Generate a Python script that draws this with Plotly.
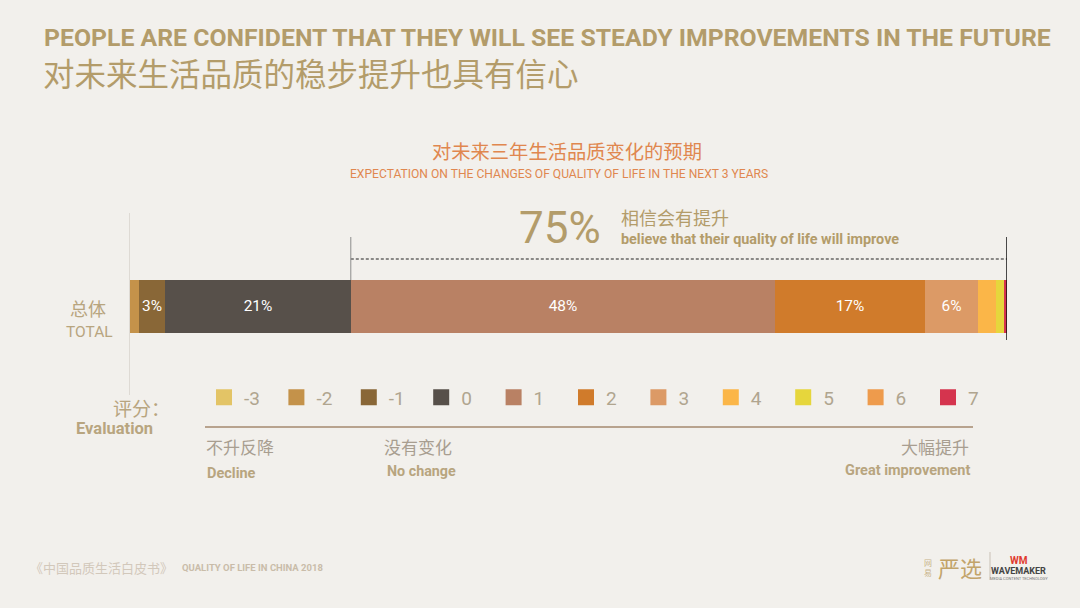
import plotly.graph_objects as go

# ---------------- data ----------------
scores = ["-3", "-2", "-1", "0", "1", "2", "3", "4", "5", "6", "7"]
shares = [0, 1, 3, 21, 48, 17, 6, 2, 1, 0, 0.3]
colors = ["#e3c466", "#c4924a", "#896737", "#57504a", "#b98164", "#d07b2b",
          "#dc9a66", "#fbb648", "#e6d63c", "#ee9b4c", "#d5344e"]
improve_share = 75

title_en = "PEOPLE ARE CONFIDENT THAT THEY WILL SEE STEADY IMPROVEMENTS IN THE FUTURE"
title_cn = "对未来生活品质的稳步提升也具有信心"
sub_cn = "对未来三年生活品质变化的预期"
sub_en = "EXPECTATION ON THE CHANGES OF QUALITY OF LIFE IN THE NEXT 3 YEARS"

# ---------------- styling ----------------
W, H = 1080, 608
L, R, T, B = 130, 1007, 213, 395
BG = "#f2f0ec"
GOLD = "#b39c6a"
TAN = "#b8a57f"
GREY = "#a89e90"
COND = "Roboto, sans-serif"
CJK = "Noto Sans CJK SC, sans-serif"
YR = [-1.73, 1.83]


def px(x):
    return (x - L) / (R - L)


def py(y):
    return (B - y) / (B - T)


def yd(y):
    return YR[1] - (y - T) / (B - T) * (YR[1] - YR[0])


fig = go.Figure()
for s, v, c in zip(scores, shares, colors):
    fig.add_trace(go.Bar(
        x=[v], y=[0], orientation="h", width=1.04,
        marker=dict(color=c, line=dict(width=0)),
        text=[f"{v:g}%" if v >= 3 else ""], textposition="inside",
        insidetextanchor="middle", textangle=0,
        textfont=dict(color="white", size=15.5, family="Roboto, sans-serif"),
        showlegend=False, hoverinfo="skip", name=s,
    ))
# legend entries
for s, c in zip(scores, colors):
    fig.add_trace(go.Scatter(
        x=[None], y=[None], mode="markers", name=s,
        marker=dict(symbol="square", size=16, color=c),
        showlegend=True,
    ))

total = sum(shares)
start_improve = sum(shares[:scores.index("1")])

shapes = [
    dict(type="line", xref="x", yref="y", x0=start_improve, x1=total,
         y0=yd(259), y1=yd(259), line=dict(color="#222222", width=1, dash="3px,2px")),
    dict(type="line", xref="x", yref="y", x0=start_improve, x1=start_improve,
         y0=yd(237), y1=yd(280), line=dict(color="#8c8c8c", width=1)),
    dict(type="line", xref="x", yref="y", x0=total, x1=total,
         y0=yd(237), y1=yd(340), line=dict(color="#111111", width=1.5)),
    dict(type="line", xref="paper", yref="paper", x0=px(205), x1=px(973),
         y0=py(427), y1=py(427), line=dict(color="#b8a38e", width=2)),
    dict(type="line", xref="paper", yref="paper", x0=px(990), x1=px(990),
         y0=py(552), y1=py(580), line=dict(color="#c9c0b5", width=1)),
]

ann = []


def text(x, y, s, size, color, family, anchor="left", bold=False, yanchor="middle"):
    if bold:
        s = f"<b>{s}</b>"
    ann.append(dict(x=px(x), y=py(y), xref="paper", yref="paper", text=s,
                    showarrow=False, xanchor=anchor, yanchor=yanchor,
                    font=dict(size=size, color=color, family=family)))


text(42, 37, title_en, 24.8, GOLD, COND, bold=True)
text(41, 72, title_cn, 31.5, GOLD, CJK)
text(567, 151, sub_cn, 19.3, "#e0874f", CJK, anchor="center")
text(559, 174, sub_en, 12.1, "#e0874f", COND, anchor="center")

text(560, 228, f"{improve_share}%", 44, GOLD, COND, anchor="center")
text(619, 217, "相信会有提升", 18, GOLD, CJK)
text(619, 239, "believe that their quality of life will improve", 14.4, GOLD, COND, bold=True)

text(88, 308, "总体", 18, TAN, CJK, anchor="center")
text(89, 332, "TOTAL", 15.5, TAN, COND, anchor="center")

text(172, 407, "评分：", 19, TAN, CJK, anchor="right")
text(155, 428, "Evaluation", 16.5, TAN, COND, anchor="right", bold=True)

text(204, 446, "不升反降", 17, GREY, CJK)
text(205, 473, "Decline", 14.5, TAN, COND, bold=True)
text(382, 446, "没有变化", 17, GREY, CJK)
text(385, 471, "No change", 14.3, TAN, COND, bold=True)
text(971, 446, "大幅提升", 17, GREY, CJK, anchor="right")
text(972, 470, "Great improvement", 14.5, TAN, COND, anchor="right", bold=True)

text(28, 567, "《中国品质生活白皮书》", 13, "#d2c8bb", CJK)
text(180, 567, "QUALITY OF LIFE IN CHINA 2018", 9.5, "#c9bca9", COND, bold=True)

# logo-ish text
text(928, 567, "网<br>易", 8, "#c9b48a", CJK, anchor="center")
text(960, 567, "严选", 22, "#c2a46a", CJK, anchor="center")
text(1019, 560, "WM", 10, "#e03a2e", COND, anchor="center", bold=True)
text(1019, 571, "WAVEMAKER", 9, "#444444", COND, anchor="center", bold=True)
text(1019, 578, "MEDIA CONTENT TECHNOLOGY", 4, "#777777", COND, anchor="center")

fig.update_layout(
    width=W, height=H,
    margin=dict(l=L, r=W - R, t=T, b=H - B, pad=0),
    paper_bgcolor=BG, plot_bgcolor=BG,
    barmode="stack", bargap=0,
    shapes=shapes, annotations=ann,
    uniformtext=dict(minsize=15, mode="show"),
    showlegend=True,
    legend=dict(orientation="h", x=px(204), y=py(397.5), xanchor="left", yanchor="middle",
                bgcolor="rgba(0,0,0,0)", borderwidth=0,
                entrywidth=27.4, entrywidthmode="pixels", itemclick=False,
                font=dict(size=19, color="#b0a58f", family="Roboto, sans-serif"),
                traceorder="normal", itemsizing="trace"),
    xaxis=dict(range=[0, total], visible=False, fixedrange=True),
    yaxis=dict(range=YR, showticklabels=False, showgrid=False, zeroline=False,
               showline=True, linecolor="#dedad4", linewidth=1, ticks="", fixedrange=True),
    font=dict(family=CJK),
)

fig.write_html(
    "out.html",
    config={"displayModeBar": False},
    post_script="document.body.style.margin='0';document.body.style.padding='0';"
                "document.body.style.background='" + BG + "';",
)
